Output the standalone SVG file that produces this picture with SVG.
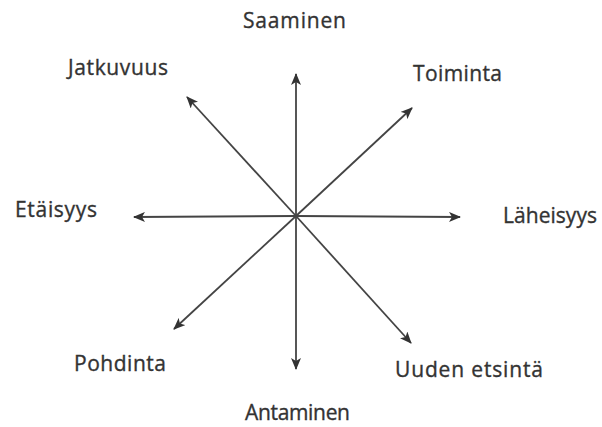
<svg xmlns="http://www.w3.org/2000/svg" width="602" height="427" viewBox="0 0 602 427">
<style>
.lbl{font-family:"Open Sans","Noto Sans","Liberation Sans",sans-serif;font-size:21px;fill:#333;stroke:#333;stroke-width:0.35;}
.ax{stroke:#444;stroke-width:1.8;fill:none;marker-end:url(#ah);}
</style>
<defs>
<marker id="ah" viewBox="0 0 12 10" refX="11" refY="5" markerWidth="12" markerHeight="10" markerUnits="userSpaceOnUse" orient="auto">
<path d="M0,0 L12,5 L0,10 L3,5 Z" fill="#333"/>
</marker>
</defs>
<rect width="602" height="427" fill="#fff"/>
<g id="connectors">
<line class="ax" x1="296" y1="216" x2="296" y2="74"/>
<line class="ax" x1="296" y1="216" x2="296" y2="369"/>
<line class="ax" x1="296" y1="216" x2="134" y2="217"/>
<line class="ax" x1="296" y1="216" x2="460" y2="217"/>
<line class="ax" x1="296" y1="216" x2="187" y2="97"/>
<line class="ax" x1="296" y1="216" x2="412" y2="108"/>
<line class="ax" x1="296" y1="216" x2="174" y2="329"/>
<line class="ax" x1="296" y1="216" x2="411" y2="343"/>
</g>
<g id="saaminen"><text class="lbl" x="243" y="28" textLength="103">Saaminen</text></g>
<g id="jatkuvuus"><text class="lbl" x="68" y="75" textLength="100">Jatkuvuus</text></g>
<g id="toiminta"><text class="lbl" x="413" y="81" textLength="89">Toiminta</text></g>
<g id="etaisyys"><text class="lbl" x="15" y="217" textLength="82">Etäisyys</text></g>
<g id="laheisyys"><text class="lbl" x="503" y="223" textLength="94">Läheisyys</text></g>
<g id="pohdinta"><text class="lbl" x="74" y="371" textLength="92">Pohdinta</text></g>
<g id="uuden-etsinta"><text class="lbl" x="395" y="377" textLength="148">Uuden etsintä</text></g>
<g id="antaminen"><text class="lbl" x="245" y="420" textLength="105">Antaminen</text></g>
</svg>
